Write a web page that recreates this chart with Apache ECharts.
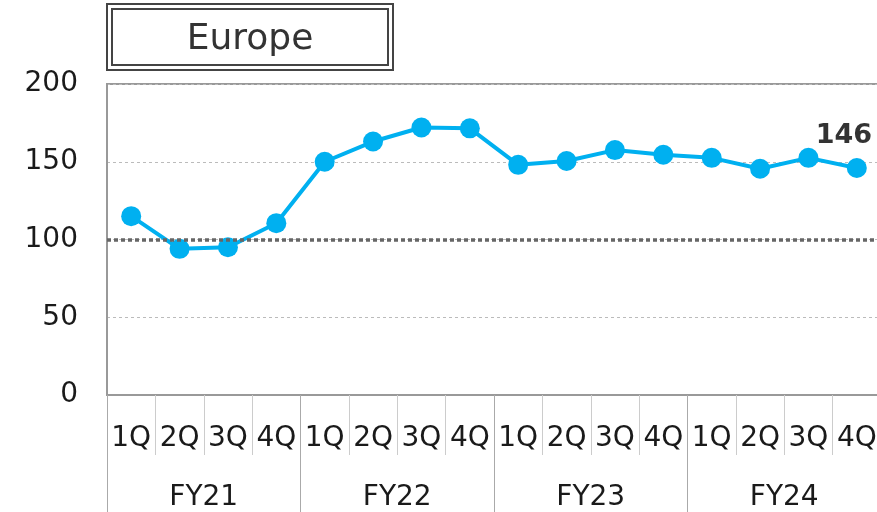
<!DOCTYPE html>
<html>
<head>
<meta charset="utf-8">
<script src="https://cdn.jsdelivr.net/npm/echarts@6/dist/echarts.min.js"></script>
<style>
  html, body { margin: 0; padding: 0; background: #fff; }
  #main { width: 877px; height: 512px; }
</style>
</head>
<body>
<div id="main"></div>
<script>
// data
var quarters = ['1Q','2Q','3Q','4Q','1Q','2Q','3Q','4Q','1Q','2Q','3Q','4Q','1Q','2Q','3Q','4Q'];
var years = ['FY21', 'FY22', 'FY23', 'FY24'];
var values = [115, 94, 95, 110.5, 150, 163, 172, 171.5, 148, 150.5, 157.5, 154.5, 152.5, 145.5, 152.5, 146];
var yTicks = [0, 50, 100, 150, 200];
var baseLine = 100;

var font = 'DejaVu Sans';

var seriesData = values.map(function (v, i) {
  if (i === values.length - 1) {
    return {
      value: v,
      label: {
        show: true, position: 'top', distance: 8, offset: [-13, 0],
        formatter: String(Math.round(v)),
        fontFamily: font, fontSize: 27, fontWeight: 'bold', color: '#333'
      }
    };
  }
  return v;
});

var chart = echarts.init(document.getElementById('main'));
chart.setOption({
  animation: false,
  grid: {
    left: 107, top: 84, width: 774, height: 311,
    outerBoundsMode: 'none', containLabel: false,
    show: true, borderColor: '#999', borderWidth: 2
  },
  xAxis: [
    {
      type: 'category', data: quarters, position: 'bottom',
      axisLine: { lineStyle: { color: '#999', width: 2 } },
      axisTick: { show: true, interval: 0, length: 60, lineStyle: { color: '#ccc', width: 1 } },
      axisLabel: { interval: 0, margin: 30, fontFamily: font, fontSize: 28, color: '#1a1a1a' }
    },
    {
      type: 'category', data: years, position: 'bottom',
      axisLine: { show: false },
      axisTick: { show: true, interval: 0, length: 120, lineStyle: { color: '#aaa', width: 1 } },
      axisLabel: { interval: 0, margin: 89, fontFamily: font, fontSize: 28, color: '#1a1a1a' }
    }
  ],
  yAxis: {
    type: 'value', min: yTicks[0], max: yTicks[yTicks.length - 1], interval: 50,
    axisLine: { show: true, lineStyle: { color: '#999', width: 2 } },
    axisTick: { show: false },
    axisLabel: { margin: 29, fontFamily: font, fontSize: 28, color: '#1a1a1a' },
    splitLine: { lineStyle: { color: '#bbb', type: [3, 3], width: 1 } }
  },
  graphic: [
    { type: 'rect', shape: { x: 107, y: 4, width: 286, height: 66 }, style: { fill: '#fff', stroke: '#444', lineWidth: 2 } },
    { type: 'rect', shape: { x: 112, y: 9, width: 276, height: 56 }, style: { fill: 'none', stroke: '#444', lineWidth: 2 } },
    { type: 'text', x: 250, y: 40, style: { text: 'Europe', font: '36px "DejaVu Sans"', fill: '#333', align: 'center', verticalAlign: 'middle' } }
  ],
  series: [{
    type: 'line', data: seriesData, xAxisIndex: 0,
    symbol: 'circle', symbolSize: 20,
    itemStyle: { color: '#00B0F0' },
    lineStyle: { color: '#00B0F0', width: 4 },
    markLine: {
      silent: true, symbol: 'none', label: { show: false },
      lineStyle: { color: '#666', type: [4, 3], width: 3.5 },
      data: [{ yAxis: baseLine }]
    },
    z: 3
  }]
});
</script>
</body>
</html>
